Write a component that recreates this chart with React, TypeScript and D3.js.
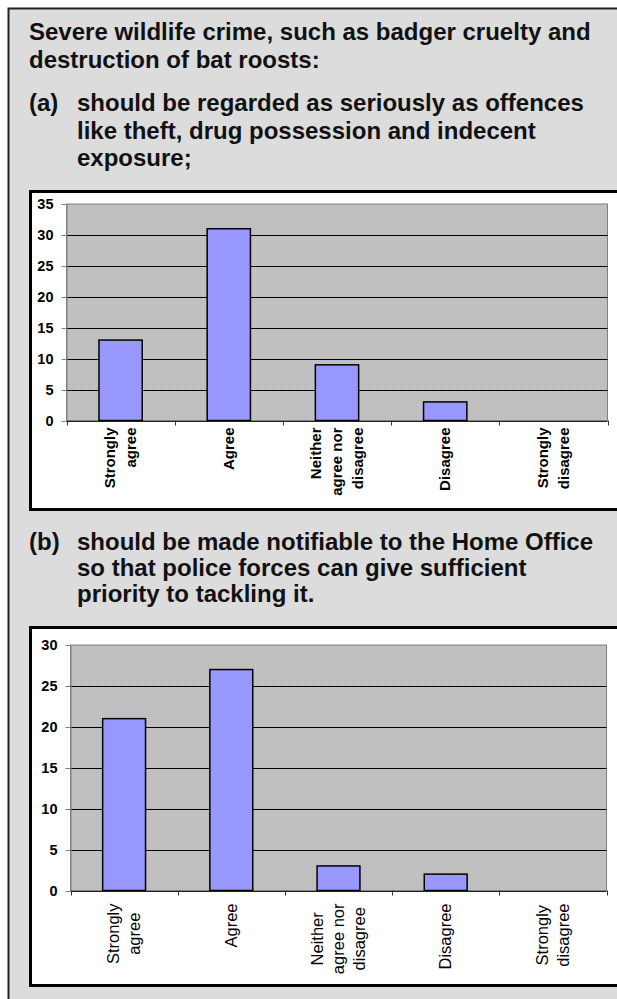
import React from 'react';
import * as d3 from 'd3';

// Survey answer categories, each split into the lines of its axis label
const categories = ['Strongly agree', 'Agree', 'Neither agree nor disagree', 'Disagree', 'Strongly disagree'];
const categoryLines = [['Strongly', 'agree'], ['Agree'], ['Neither', 'agree nor', 'disagree'], ['Disagree'], ['Strongly', 'disagree']];

// Number of responses per answer
const valuesA = [13, 31, 9, 3, 0];
const valuesB = [21, 27, 3, 2, 0];

// Value axis ticks
const ticksA = [0, 5, 10, 15, 20, 25, 30, 35];
const ticksB = [0, 5, 10, 15, 20, 25, 30];

// Question text
const introLines = ['Severe wildlife crime, such as badger cruelty and', 'destruction of bat roosts:'];
const questionA = ['should be regarded as seriously as offences', 'like theft, drug possession and indecent', 'exposure;'];
const questionB = ['should be made notifiable to the Home Office', 'so that police forces can give sufficient', 'priority to tackling it.'];

const W = 617;
const H = 999;
const FONT = '"Liberation Sans", Arial, Helvetica, sans-serif';

let measureCtx: CanvasRenderingContext2D | null = null;
function textWidth(s: string, font: string): number {
  if (!measureCtx) measureCtx = document.createElement('canvas').getContext('2d');
  if (!measureCtx) return s.length * 8;
  measureCtx.font = font;
  return measureCtx.measureText(s).width;
}

type ChartProps = {
  box: { x: number; y: number; bottom: number };
  plot: { left: number; right: number; top: number; bottom: number };
  values: number[];
  ticks: number[];
  labelBold: boolean;
  labelSize: number;
  labelGap: number;
  lineStep: number;
  centered: boolean;
};

function BarChart(p: ChartProps) {
  const { box, plot, values, ticks } = p;
  const yMax = d3.max(ticks) as number;
  const y = d3.scaleLinear().domain([0, yMax]).range([plot.bottom, plot.top]);
  const x = d3.scaleBand<string>().domain(categories).range([plot.left, plot.right]).padding(0);
  const bw = x.bandwidth() / 2.5;
  const labelFont = `${p.labelBold ? 'bold ' : ''}${p.labelSize}px ${FONT}`;
  const boundaries = d3.range(categories.length + 1).map((i) => plot.left + i * x.step());

  return (
    <g>
      <rect x={box.x + 1.5} y={box.y + 1.5} width={W + 20 - box.x} height={box.bottom - box.y - 3}
        fill="#ffffff" stroke="#000" strokeWidth={3} />
      <rect x={plot.left} y={plot.top} width={plot.right - plot.left} height={plot.bottom - plot.top}
        fill="url(#dither)" stroke="#808080" strokeWidth={1} />
      {ticks.filter((t) => t > 0 && t < yMax).map((t) => (
        <line key={t} x1={plot.left} x2={plot.right} y1={Math.round(y(t)) + 0.5} y2={Math.round(y(t)) + 0.5}
          stroke="#000" strokeWidth={1} />
      ))}
      {values.map((v, i) => (
        v > 0 ? (
          <rect key={i} x={(x(categories[i]) as number) + (x.bandwidth() - bw) / 2} y={y(v)}
            width={bw} height={y(0) - y(v)} fill="url(#barFill)" stroke="#000" strokeWidth={1.5} />
        ) : null
      ))}
      {/* value axis */}
      <line x1={plot.left + 0.5} x2={plot.left + 0.5} y1={plot.top} y2={plot.bottom} stroke="#808080" strokeWidth={1} />
      {ticks.map((t) => (
        <g key={t}>
          <line x1={plot.left - 5} x2={plot.left} y1={Math.round(y(t)) + 0.5} y2={Math.round(y(t)) + 0.5}
            stroke="#808080" strokeWidth={1} />
          <text x={plot.left - 13} y={y(t)} dy="0.35em" textAnchor="end" fontFamily={FONT}
            fontWeight="bold" fontSize={14.5} fill="#000">{t}</text>
        </g>
      ))}
      {/* category axis */}
      <line x1={plot.left} x2={plot.right} y1={Math.round(plot.bottom) + 0.5} y2={Math.round(plot.bottom) + 0.5}
        stroke="#222" strokeWidth={1} />
      {boundaries.map((bx, i) => (
        <line key={i} x1={Math.round(bx) + 0.5} x2={Math.round(bx) + 0.5} y1={plot.bottom} y2={plot.bottom + 5}
          stroke="#333" strokeWidth={1} />
      ))}
      {categoryLines.map((lines, i) => {
        const cx = (x(categories[i]) as number) + x.bandwidth() / 2;
        const top = plot.bottom + p.labelGap;
        const maxLen = d3.max(lines, (l) => textWidth(l, labelFont)) as number;
        return (
          <g key={i}>
            {lines.map((l, j) => {
              const lx = cx + (j - (lines.length - 1) / 2) * p.lineStep;
              const ly = p.centered ? top + maxLen / 2 : top;
              return (
                <text key={j} transform={`translate(${lx},${ly}) rotate(-90)`} dy="0.35em"
                  textAnchor={p.centered ? 'middle' : 'end'} fontFamily={FONT}
                  fontWeight={p.labelBold ? 'bold' : 'normal'} fontSize={p.labelSize} fill="#000">{l}</text>
              );
            })}
          </g>
        );
      })}
    </g>
  );
}

function TextBlock({ lead, lines, x, indent, y0, step }: { lead?: string; lines: string[]; x: number; indent: number; y0: number; step: number }) {
  return (
    <g fontFamily={FONT} fontWeight="bold" fontSize={24} fill="#111">
      {lead ? <text x={x} y={y0}>{lead}</text> : null}
      {lines.map((l, i) => (
        <text key={i} x={indent} y={y0 + i * step}>{l}</text>
      ))}
    </g>
  );
}

export default function App() {
  return (
    <div style={{ position: 'absolute', left: 0, top: 0, width: W, height: H, overflow: 'hidden' }}>
      <svg width={W} height={H} style={{ display: 'block' }}>
        <defs>
          <pattern id="dither" width={2} height={2} patternUnits="userSpaceOnUse">
            <rect width={2} height={2} fill="#c0c0c0" />
            <rect width={1} height={1} fill="#bababa" />
            <rect x={1} y={1} width={1} height={1} fill="#c5c5c5" />
          </pattern>
          <pattern id="barFill" width={2} height={2} patternUnits="userSpaceOnUse">
            <rect width={2} height={2} fill="#9999ff" />
            <rect width={1} height={1} fill="#9494f8" />
          </pattern>
        </defs>
        <rect x={0} y={0} width={W} height={H} fill="#ffffff" />
        <rect x={8.5} y={8.5} width={W + 20} height={H + 20} fill="#dcdcdc" stroke="#222" strokeWidth={2} />

        <TextBlock lines={introLines} x={29} indent={29} y0={40} step={28} />
        <TextBlock lead="(a)" lines={questionA} x={29} indent={77} y0={111} step={27.5} />

        <BarChart box={{ x: 29, y: 190, bottom: 511 }}
          plot={{ left: 66.5, right: 607.5, top: 204, bottom: 420.5 }}
          values={valuesA} ticks={ticksA} labelBold={true} labelSize={15} labelGap={7} lineStep={21} centered={false} />

        <TextBlock lead="(b)" lines={questionB} x={29} indent={77} y0={550} step={26} />

        <BarChart box={{ x: 29, y: 626, bottom: 987 }}
          plot={{ left: 70.5, right: 606.5, top: 645, bottom: 890.5 }}
          values={valuesB} ticks={ticksB} labelBold={false} labelSize={16.5} labelGap={13} lineStep={21} centered={true} />
      </svg>
    </div>
  );
}
